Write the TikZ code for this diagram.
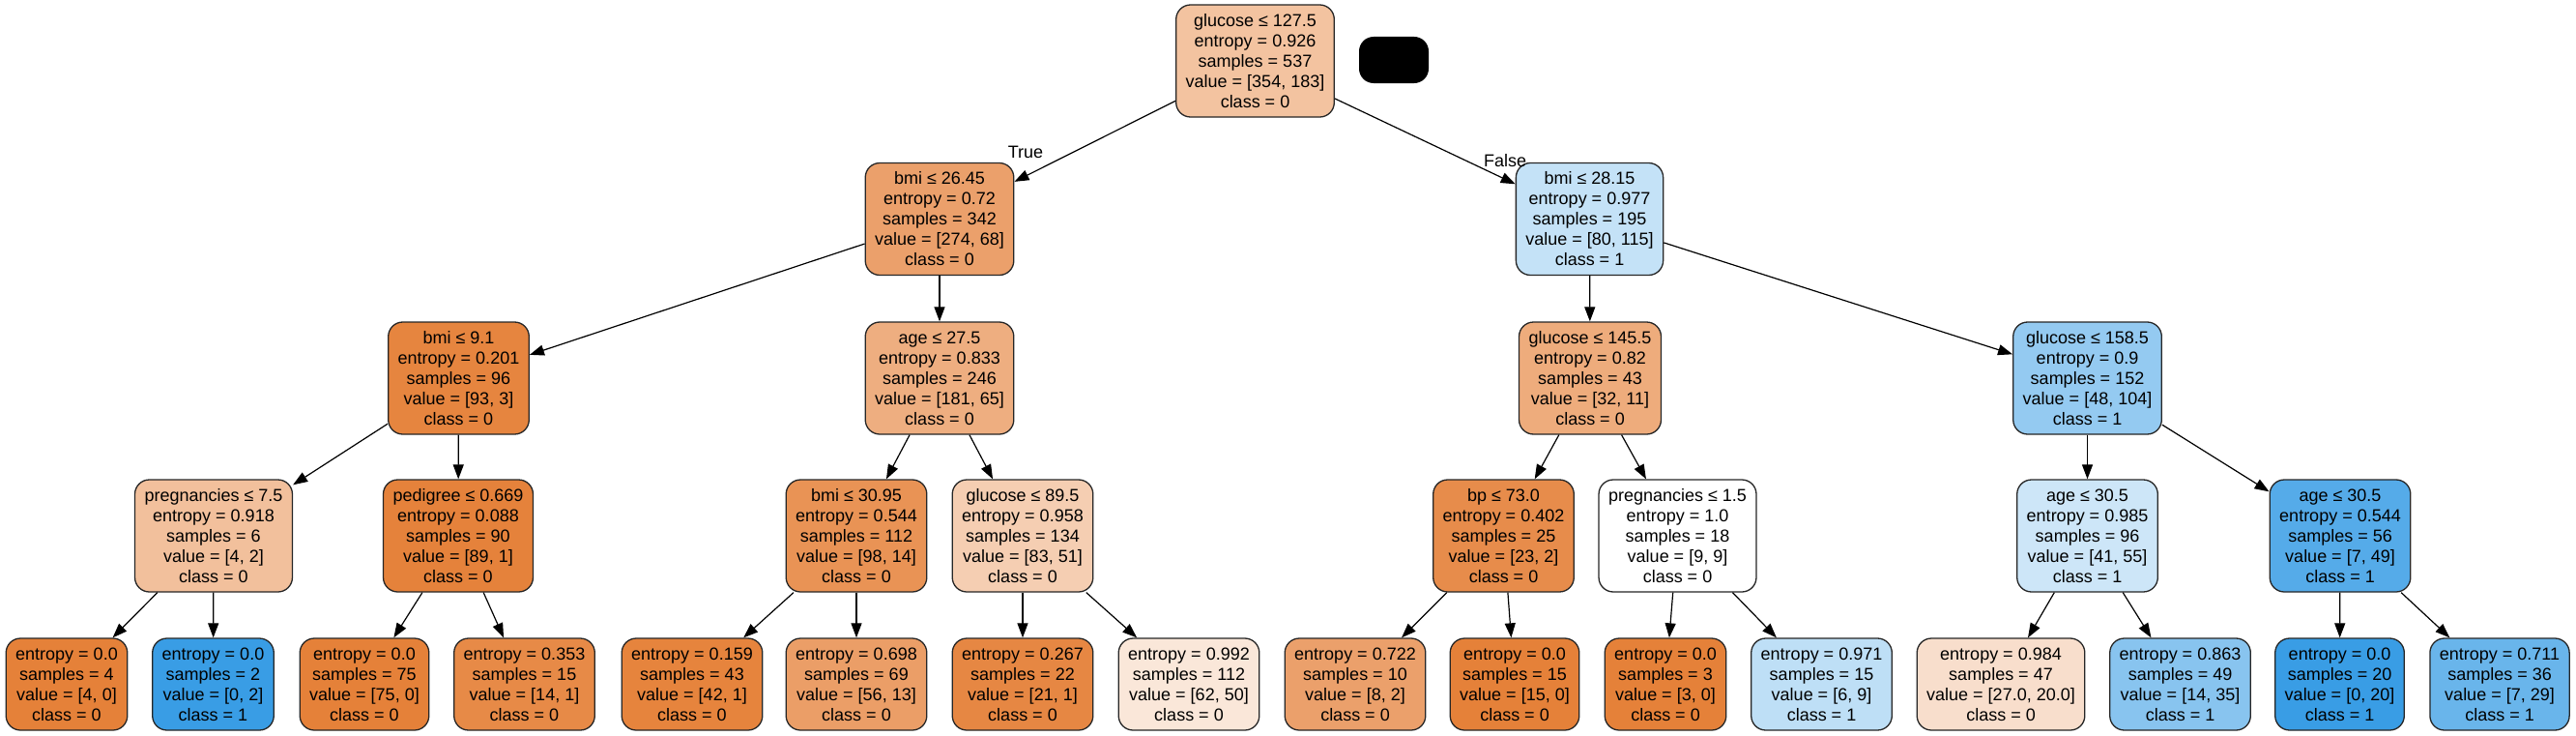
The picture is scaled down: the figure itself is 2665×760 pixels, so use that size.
\documentclass[tikz,border=0pt]{standalone}
\usepackage{fontspec}
\setmainfont{Liberation Sans}
\usetikzlibrary{arrows.meta}

\definecolor{zero}{RGB}{229,129,57}
\definecolor{one}{RGB}{57,157,229}

\begin{document}
\begin{tikzpicture}[x=1pt, y=-1pt,
        every node/.style={font=\fontsize{18}{21}\selectfont},
        split/.style={draw=black!85, line width=1.3pt, rounded corners=15pt, align=center, inner xsep=10pt, minimum height=116pt},
        leaf/.style={split, minimum height=95pt},
        link/.style={-{Triangle[length=15pt, width=11pt]}, line width=1.2pt}]
        \useasboundingbox (0,0) rectangle (2665,760);

        % level 0
        \node[split, fill=zero!48!white] (root) at (1298.5,63) {glucose ≤ 127.5\\entropy = 0.926\\samples = 537\\value = [354, 183]\\class = 0};
        \node[fill=black, rounded corners=15pt, minimum width=72pt, minimum height=48pt] (blank) at (1442,62) {};

        % level 1
        \node[split, fill=zero!75!white] (bmiL) at (972,226.5) {bmi ≤ 26.45\\entropy = 0.72\\samples = 342\\value = [274, 68]\\class = 0};
        \node[split, fill=one!30!white] (bmiR) at (1644.5,226.5) {bmi ≤ 28.15\\entropy = 0.977\\samples = 195\\value = [80, 115]\\class = 1};
        \node (true) at (1061,157) {True};
        \node (false) at (1557,166) {False};

        % level 2
        \node[split, fill=zero!97!white] (bmiLL) at (474.5,391) {bmi ≤ 9.1\\entropy = 0.201\\samples = 96\\value = [93, 3]\\class = 0};
        \node[split, fill=zero!64!white] (ageL) at (972,391) {age ≤ 27.5\\entropy = 0.833\\samples = 246\\value = [181, 65]\\class = 0};
        \node[split, fill=zero!66!white] (gluRL) at (1645,391) {glucose ≤ 145.5\\entropy = 0.82\\samples = 43\\value = [32, 11]\\class = 0};
        \node[split, fill=one!54!white] (gluRR) at (2159.5,391) {glucose ≤ 158.5\\entropy = 0.9\\samples = 152\\value = [48, 104]\\class = 1};

        % level 3
        \node[split, fill=zero!50!white] (pregL) at (221,554) {pregnancies ≤ 7.5\\entropy = 0.918\\samples = 6\\value = [4, 2]\\class = 0};
        \node[split, fill=zero!99!white] (pedL) at (474,554) {pedigree ≤ 0.669\\entropy = 0.088\\samples = 90\\value = [89, 1]\\class = 0};
        \node[split, fill=zero!86!white] (bmiM) at (886,554) {bmi ≤ 30.95\\entropy = 0.544\\samples = 112\\value = [98, 14]\\class = 0};
        \node[split, fill=zero!39!white] (gluM) at (1058,554) {glucose ≤ 89.5\\entropy = 0.958\\samples = 134\\value = [83, 51]\\class = 0};
        \node[split, fill=zero!91!white] (bpR) at (1555.5,554) {bp ≤ 73.0\\entropy = 0.402\\samples = 25\\value = [23, 2]\\class = 0};
        \node[split, fill=white] (pregR) at (1735.5,554) {pregnancies ≤ 1.5\\entropy = 1.0\\samples = 18\\value = [9, 9]\\class = 0};
        \node[split, fill=one!25!white] (ageRL) at (2159.5,554) {age ≤ 30.5\\entropy = 0.985\\samples = 96\\value = [41, 55]\\class = 1};
        \node[split, fill=one!86!white] (ageRR) at (2421,554) {age ≤ 30.5\\entropy = 0.544\\samples = 56\\value = [7, 49]\\class = 1};

        % leaves
        \node[leaf, fill=zero] (leaf1) at (69,707.5) {entropy = 0.0\\samples = 4\\value = [4, 0]\\class = 0};
        \node[leaf, fill=one] (leaf2) at (220.5,707.5) {entropy = 0.0\\samples = 2\\value = [0, 2]\\class = 1};
        \node[leaf, fill=zero] (leaf3) at (377,707.5) {entropy = 0.0\\samples = 75\\value = [75, 0]\\class = 0};
        \node[leaf, fill=zero!93!white] (leaf4) at (542.5,707.5) {entropy = 0.353\\samples = 15\\value = [14, 1]\\class = 0};
        \node[leaf, fill=zero!98!white] (leaf5) at (716,707.5) {entropy = 0.159\\samples = 43\\value = [42, 1]\\class = 0};
        \node[leaf, fill=zero!77!white] (leaf6) at (886,707.5) {entropy = 0.698\\samples = 69\\value = [56, 13]\\class = 0};
        \node[leaf, fill=zero!95!white] (leaf7) at (1058,707.5) {entropy = 0.267\\samples = 22\\value = [21, 1]\\class = 0};
        \node[leaf, fill=zero!19!white] (leaf8) at (1230,707.5) {entropy = 0.992\\samples = 112\\value = [62, 50]\\class = 0};
        \node[leaf, fill=zero!75!white] (leaf9) at (1402,707.5) {entropy = 0.722\\samples = 10\\value = [8, 2]\\class = 0};
        \node[leaf, fill=zero] (leaf10) at (1567,707.5) {entropy = 0.0\\samples = 15\\value = [15, 0]\\class = 0};
        \node[leaf, fill=zero] (leaf11) at (1723,707.5) {entropy = 0.0\\samples = 3\\value = [3, 0]\\class = 0};
        \node[leaf, fill=one!33!white] (leaf12) at (1884.5,707.5) {entropy = 0.971\\samples = 15\\value = [6, 9]\\class = 1};
        \node[leaf, fill=zero!26!white] (leaf13) at (2070,707.5) {entropy = 0.984\\samples = 47\\value = [27.0, 20.0]\\class = 0};
        \node[leaf, fill=one!60!white] (leaf14) at (2255.5,707.5) {entropy = 0.863\\samples = 49\\value = [14, 35]\\class = 1};
        \node[leaf, fill=one] (leaf15) at (2420.5,707.5) {entropy = 0.0\\samples = 20\\value = [0, 20]\\class = 1};
        \node[leaf, fill=one!76!white] (leaf16) at (2586,707.5) {entropy = 0.711\\samples = 36\\value = [7, 29]\\class = 1};

        \draw[link] (root) -- (bmiL);
        \draw[link] (root) -- (bmiR);
        \draw[link] (bmiL) -- (bmiLL);
        \draw[link] (bmiL) -- (ageL);
        \draw[link] (bmiR) -- (gluRL);
        \draw[link] (bmiR) -- (gluRR);
        \draw[link] (bmiLL) -- (pregL);
        \draw[link] (bmiLL) -- (pedL);
        \draw[link] (ageL) -- (bmiM);
        \draw[link] (ageL) -- (gluM);
        \draw[link] (gluRL) -- (bpR);
        \draw[link] (gluRL) -- (pregR);
        \draw[link] (gluRR) -- (ageRL);
        \draw[link] (gluRR) -- (ageRR);
        \draw[link] (pregL) -- (leaf1);
        \draw[link] (pregL) -- (leaf2);
        \draw[link] (pedL) -- (leaf3);
        \draw[link] (pedL) -- (leaf4);
        \draw[link] (bmiM) -- (leaf5);
        \draw[link] (bmiM) -- (leaf6);
        \draw[link] (gluM) -- (leaf7);
        \draw[link] (gluM) -- (leaf8);
        \draw[link] (bpR) -- (leaf9);
        \draw[link] (bpR) -- (leaf10);
        \draw[link] (pregR) -- (leaf11);
        \draw[link] (pregR) -- (leaf12);
        \draw[link] (ageRL) -- (leaf13);
        \draw[link] (ageRL) -- (leaf14);
        \draw[link] (ageRR) -- (leaf15);
        \draw[link] (ageRR) -- (leaf16);
    \end{tikzpicture}
\end{document}
